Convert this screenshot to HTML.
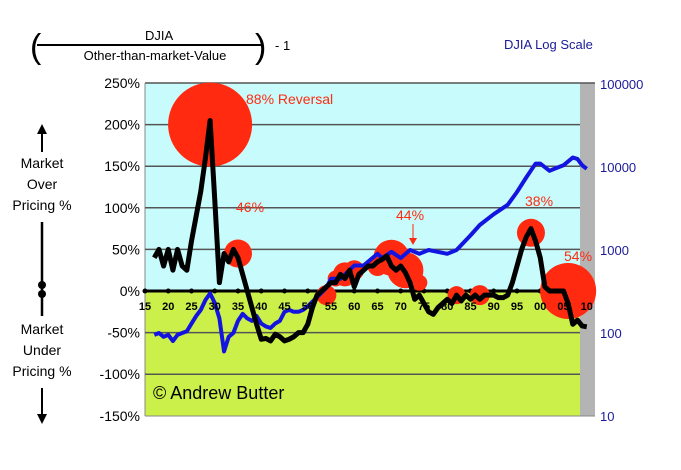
<!DOCTYPE html>
<html><head><meta charset="utf-8"><style>
body{margin:0;background:#fff;width:681px;height:465px;overflow:hidden;font-family:"Liberation Sans",sans-serif}
</style></head><body>
<svg width="681" height="465" font-family="Liberation Sans, sans-serif">
<g>
<text x="30" y="58" font-size="34" font-weight="normal">(</text>
<text x="255" y="58" font-size="34">)</text>
<text x="145" y="40" font-size="13">DJIA</text>
<line x1="37" y1="45" x2="262" y2="45" stroke="#000" stroke-width="2"/>
<text x="155" y="60" font-size="13" text-anchor="middle">Other-than-market-Value</text>
<text x="275" y="50" font-size="13">- 1</text>
</g>
<text x="504" y="49" font-size="13" fill="#1a1a9a">DJIA Log Scale</text>
<rect x="145" y="83" width="450" height="208" fill="#c8fcfc"/>
<rect x="145" y="291" width="450" height="125" fill="#ccf04a"/>
<rect x="580" y="83" width="15" height="333" fill="#b4b4b4"/>
<line x1="145" y1="83" x2="595" y2="83" stroke="#555" stroke-width="1.5"/>
<line x1="145" y1="83" x2="145" y2="416" stroke="#888"/>
<line x1="145" y1="416" x2="595" y2="416" stroke="#888"/>
<g id="grid"></g><g id="ylab"></g><g id="rlab"></g>
<g id="circles"></g>
<polyline id="blue" fill="none" stroke="#1414e0" stroke-width="4" stroke-linejoin="round"/>
<polyline id="black" fill="none" stroke="#000" stroke-width="5" stroke-linejoin="round"/>
<g id="xlab"></g>
<g fill="#ff2a10" font-size="14">
<text x="246" y="104">88% Reversal</text>
<text x="236" y="212">46%</text>
<text x="396" y="220">44%</text>
<line x1="413" y1="224" x2="413" y2="240" stroke="#ff2a10"/><path d="M409,238 L413,245 L417,238Z"/>
<text x="525" y="206">38%</text>
<text x="564" y="261">54%</text>
</g>
<text x="153" y="399" font-size="18">© Andrew Butter</text>
<g font-size="14" text-anchor="middle">
<line x1="42" y1="152" x2="42" y2="130" stroke="#000" stroke-width="2"/><path d="M37,134 L42,124 L47,134Z"/>
<text x="42" y="168">Market</text><text x="42" y="189">Over</text><text x="42" y="210">Pricing %</text>
<line x1="42" y1="222" x2="42" y2="316" stroke="#000" stroke-width="2.5"/>
<circle cx="42" cy="285" r="4"/><circle cx="42" cy="294" r="4"/>
<text x="42" y="334">Market</text><text x="42" y="355">Under</text><text x="42" y="376">Pricing %</text>
<line x1="42" y1="388" x2="42" y2="418" stroke="#000" stroke-width="2"/><path d="M37,414 L42,424 L47,414Z"/>
</g>
</svg>
<script>
const years=[1917,1918,1919,1920,1921,1922,1923,1924,1925,1926,1927,1928,1929,1930,1931,1932,1933,1934,1935,1936,1937,1938,1939,1940,1941,1942,1943,1944,1945,1946,1947,1948,1949,1950,1951,1952,1953,1954,1955,1956,1957,1958,1959,1960,1961,1962,1963,1964,1965,1966,1967,1968,1969,1970,1971,1972,1973,1974,1975,1976,1977,1978,1979,1980,1981,1982,1983,1984,1985,1986,1987,1988,1989,1990,1991,1992,1993,1994,1995,1996,1997,1998,1999,2000,2001,2002,2003,2004,2005,2006,2007,2008,2009,2010,2011];
const overPricing=[40,50,30,50,25,50,30,25,60,90,120,160,205,110,10,45,35,50,40,20,0,-20,-40,-58,-57,-60,-52,-55,-60,-58,-55,-50,-50,-40,-20,-5,0,5,10,10,20,15,25,5,20,25,30,30,35,38,42,30,25,30,22,10,-10,-5,-15,-25,-28,-20,-15,-10,-15,-5,-12,-5,-10,-5,-10,-5,-5,-5,-8,-8,-5,10,30,50,65,75,60,40,5,0,0,0,0,-15,-40,-35,-42,-43];
const djiaYears=[1917,1918,1919,1920,1921,1922,1923,1924,1925,1926,1927,1928,1929,1930,1931,1932,1933,1934,1935,1936,1937,1938,1939,1940,1941,1942,1943,1944,1945,1946,1947,1948,1949,1950,1952,1954,1955,1957,1960,1962,1965,1966,1968,1970,1972,1974,1976,1980,1982,1985,1987,1990,1993,1995,1997,1999,2000,2002,2003,2005,2007,2008,2009,2010];
const djia=[95,100,90,95,80,95,100,105,130,160,190,250,300,230,150,60,90,100,140,170,150,140,160,130,120,115,130,140,180,190,180,180,190,210,270,350,450,450,650,650,900,800,950,800,1000,900,1000,900,1000,1500,2000,2700,3500,5000,7500,11000,11000,9000,9500,10500,13000,12500,10500,9500];
const pctTicks=[250,200,150,100,50,0,-50,-100,-150];
const logTicks=[100000,10000,1000,100,10];
const xTicks=["15","20","25","30","35","40","45","50","55","60","65","70","75","80","85","90","95","00","05","10"];
const circYears=[1929,1935,1954,1956,1958,1960,1965,1968,1971,1974,1982,1987,1998,2006];
const circPct=[200,45,-5,15,20,25,30,40,25,10,-5,-5,70,0];
const circR=[42,14,10,8,12,10,10,18,18,8,9,10,14,28];
const NS='http://www.w3.org/2000/svg';
const x=y=>145+(y-1915)*4.65;
const yp=p=>291-p*208/250;
const yl=v=>416-83*(Math.log10(v)-1);
function mk(t,a,parent){const e=document.createElementNS(NS,t);for(const k in a)e.setAttribute(k,a[k]);document.getElementById(parent).appendChild(e);return e;}
pctTicks.forEach(p=>{
 if(p!==250&&p!==-150){const l=mk('line',{x1:145,x2:580,y1:yp(p),y2:yp(p),stroke:p===0?'#000':'#555','stroke-width':p===0?3:1.5},'grid');
 
 }
 const t=mk('text',{x:140,y:yp(p)+5,'text-anchor':'end','font-size':14},'ylab');t.textContent=p+'%';
 
 
});
logTicks.forEach(v=>{const t=mk('text',{x:600,y:yl(v)+5,'font-size':13,fill:'#1a1a9a'},'rlab');t.textContent=v;
 
 });
xTicks.forEach((s,i)=>{const yr=1915+5*i;const t=mk('text',{x:x(yr),y:310,'text-anchor':'middle','font-size':11,'font-weight':'bold'},'xlab');t.textContent=s;
 
 
 const d=mk('circle',{cx:x(yr),cy:291,r:2.5,fill:'#000'},'grid');
 
 });
circYears.forEach((yr,i)=>{const c=mk('circle',{cx:x(yr),cy:yp(circPct[i]),r:circR[i],fill:'#ff2a10'},'circles');
 
 });
document.getElementById('black').setAttribute('points',years.map((y,i)=>x(y)+','+yp(overPricing[i])).join(' '));
document.getElementById('blue').setAttribute('points',djiaYears.map((y,i)=>x(y)+','+yl(djia[i])).join(' '));
</script>
</body></html>
